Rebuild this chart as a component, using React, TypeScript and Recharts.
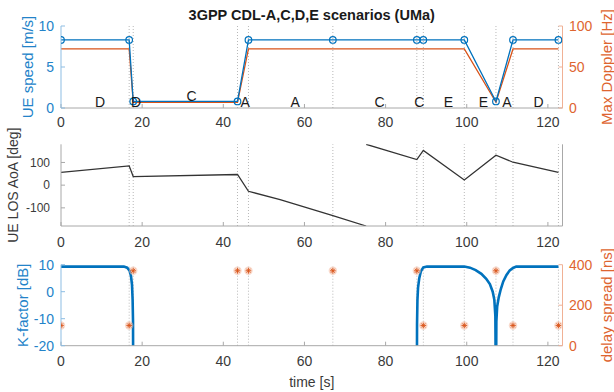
import React from 'react';
import { ComposedChart, Line, XAxis, YAxis, ReferenceLine } from 'recharts';

// segment boundaries (s) and per-point values
const segTimes = [0, 16.8, 17.8, 43.5, 46.2, 67.0, 87.7, 89.3, 99.4, 107.2, 111.4, 122.6];
const ueSpeed = [8.3, 8.3, 0.8, 0.8, 8.3, 8.3, 8.3, 8.3, 8.3, 0.8, 8.3, 8.3];
const maxDoppler = [72, 72, 7, 7, 72, 72, 72, 72, 72, 7, 72, 72];
const delaySpread = [100, 100, 370, 370, 370, 370, 370, 100, 100, 370, 100, 100];

const scenarioNames = ['D', 'D', 'C', 'A', 'A', 'C', 'C', 'E', 'E', 'A', 'D'];
const scenarioX = [9.6, 18.5, 32.2, 45.4, 57.7, 78.5, 88.3, 95.5, 104.1, 109.9, 117.7];
const scenarioY = [0.77, 0.77, 1.52, 0.77, 0.77, 0.77, 0.77, 0.77, 0.77, 0.77, 0.77];

// LOS angle of arrival, split where it wraps from -180 to 180
const aoaTimesA = [0, 16.8, 17.8, 43.5, 46.2, 54, 67.0, 75.2];
const aoaA = [56, 85, 38, 47, -27, -64, -134, -180];
const aoaTimesB = [75.2, 87.7, 89.3, 99.4, 107.2, 111.4, 122.6];
const aoaB = [180, 113, 153, 23, 132, 101, 56];

// K-factor arcs (values below -20 are off the axis)
const kTimes1 = [0, 15.5, 16.3, 16.9, 17.25, 17.5, 17.65, 17.75, 17.8];
const kVals1 = [9.3, 9.3, 8.9, 7.8, 5.8, 2.5, -3, -11, -40];
const kTimes2 = [87.7, 87.75, 87.85, 88.0, 88.3, 88.7, 89.3, 90.2, 99.4, 100.8, 102.2, 103.6, 104.8, 105.7, 106.4, 106.8, 107.05, 107.2];
const kVals2 = [-40, -12, -3, 1.5, 5, 7.6, 9.0, 9.3, 9.3, 8.9, 8.0, 6.6, 4.8, 2.8, 0, -3, -9, -40];
const kTimes3 = [107.2, 107.3, 107.5, 107.9, 108.4, 109.0, 109.8, 110.6, 111.4, 112.2, 122.6];
const kVals3 = [-40, -11, -5.5, -2, 1, 3.8, 6.2, 7.9, 8.8, 9.3, 9.3];

const xTicks = [0, 20, 40, 60, 80, 100, 120];
const boundaries = segTimes.slice(1);

const BLUE = '#0072BD';
const ORANGE = '#D95319';
const BLUE_TXT = '#2383c9';
const ORANGE_TXT = '#de6530';
const BLUE_AXIS = '#8dbde3';
const ORANGE_AXIS = '#f0b195';
const GRAY_AXIS = '#a8a8a8';
const DARK = '#3a3a3a';
const FONT = '"Liberation Sans", Arial, Helvetica, sans-serif';

const W = 614;
const LEFT_W = 61;
const RIGHT_W = 51.5;
const X_MAX = 123.6;

const pts = (ts: number[], vs: number[]) => ts.map((t, i) => ({ t, v: vs[i] }));

const speedData = pts(segTimes, ueSpeed);
const dopplerData = pts(segTimes, maxDoppler);
const dsData = pts(segTimes, delaySpread);
const labelData = scenarioX.map((t, i) => ({ t, v: scenarioY[i], name: scenarioNames[i] }));
const aoaDataA = pts(aoaTimesA, aoaA);
const aoaDataB = pts(aoaTimesB, aoaB);
const kData1 = pts(kTimes1, kVals1);
const kData2 = pts(kTimes2, kVals2);
const kData3 = pts(kTimes3, kVals3);

const tickFont = (fill: string, size = 14) => ({ fill, fontSize: size, fontFamily: FONT });

const sideTitle = (text: string, x: number, color: string, size = 15) => (props: any) => {
  const vb = props.viewBox || {};
  const cy = (vb.y ?? 0) + (vb.height ?? 0) / 2;
  return (
    <text
      x={x}
      y={cy}
      transform={`rotate(-90, ${x}, ${cy})`}
      textAnchor="middle"
      dominantBaseline="central"
      fill={color}
      fontSize={size}
      fontFamily={FONT}
    >
      {text}
    </text>
  );
};

const plainTitle = (text: string, y: number, size: number) => (props: any) => {
  const vb = props.viewBox || {};
  const cx = (vb.x ?? 0) + (vb.width ?? 0) / 2;
  return (
    <text x={cx} y={y} textAnchor="middle" dominantBaseline="central" fill={DARK} fontSize={size} fontFamily={FONT}>
      {text}
    </text>
  );
};

const renderScenario = (p: any) => (
  <text
    key={`sc-${p.index}`}
    x={p.cx}
    y={p.cy}
    textAnchor="middle"
    dominantBaseline="central"
    fontSize={14}
    fontFamily={FONT}
    fill="#1a1a1a"
  >
    {p.payload.name}
  </text>
);

const renderStar = (p: any) => {
  const { cx, cy, index } = p;
  const s = 2.8;
  const d = s * 0.7;
  return (
    <g key={`ds-${index}`}>
      <circle cx={cx} cy={cy} r={4.2} fill="#f4b9a0" fillOpacity={0.55} />
      <line x1={cx - s} y1={cy} x2={cx + s} y2={cy} stroke={ORANGE} strokeWidth={0.9} />
      <line x1={cx} y1={cy - s} x2={cx} y2={cy + s} stroke={ORANGE} strokeWidth={0.9} />
      <line x1={cx - d} y1={cy - d} x2={cx + d} y2={cy + d} stroke={ORANGE} strokeWidth={0.9} />
      <line x1={cx - d} y1={cy + d} x2={cx + d} y2={cy - d} stroke={ORANGE} strokeWidth={0.9} />
    </g>
  );
};

const topAxis = (
  <XAxis
    xAxisId="top"
    orientation="top"
    type="number"
    dataKey="t"
    domain={[0, X_MAX]}
    ticks={xTicks}
    allowDataOverflow
    height={0}
    tickSize={-4}
    tick={false}
    stroke={GRAY_AXIS}
  />
);

const dotted = (yAxisId: string) =>
  boundaries.map((b) => (
    <ReferenceLine key={`b-${b}`} x={b} yAxisId={yAxisId} stroke="#b8b8b8" strokeDasharray="1 2" strokeWidth={1} />
  ));

export default function App() {
  return (
    <div style={{ position: 'absolute', left: 0, top: 0, width: W, height: 392, background: '#fff' }}>
      <div
        style={{
          position: 'absolute',
          left: LEFT_W,
          top: 6,
          width: W - LEFT_W - RIGHT_W,
          textAlign: 'center',
          fontFamily: FONT,
          fontSize: 14.5,
          lineHeight: '18px',
          fontWeight: 'bold',
          color: '#1a1a1a',
          zIndex: 2,
        }}
      >
        3GPP CDL-A,C,D,E scenarios (UMa)
      </div>

      {/* speed / doppler */}
      <div style={{ position: 'absolute', left: 0, top: 0 }}>
        <ComposedChart width={W} height={135} margin={{ top: 26, right: 0, bottom: 0, left: 0 }}>
          <XAxis
            type="number"
            dataKey="t"
            domain={[0, X_MAX]}
            ticks={xTicks}
            allowDataOverflow
            height={27}
            tickSize={-4}
            tickMargin={13}
            stroke={GRAY_AXIS}
            tick={tickFont(DARK)}
          />
          {topAxis}
          <YAxis
            yAxisId="l"
            width={LEFT_W}
            domain={[0, 10]}
            ticks={[0, 5, 10]}
            allowDataOverflow
            tickSize={-4}
            tickMargin={11}
            stroke={BLUE_AXIS}
            tick={tickFont(BLUE_TXT)}
            label={sideTitle('UE speed [m/s]', 27, BLUE_TXT)}
          />
          <YAxis
            yAxisId="r"
            orientation="right"
            width={RIGHT_W}
            domain={[0, 100]}
            ticks={[0, 50, 100]}
            allowDataOverflow
            tickSize={-4}
            tickMargin={10.5}
            stroke={ORANGE_AXIS}
            tick={tickFont(ORANGE_TXT)}
            label={sideTitle('Max Doppler [Hz]', 606, ORANGE_TXT)}
          />
          {dotted('l')}
          <Line yAxisId="r" data={dopplerData} dataKey="v" stroke={ORANGE} strokeWidth={1.3} dot={false} activeDot={false} isAnimationActive={false} />
          <Line
            yAxisId="l"
            data={speedData}
            dataKey="v"
            stroke={BLUE}
            strokeWidth={1.3}
            dot={{ r: 3.3, stroke: BLUE, strokeWidth: 1.2, fill: 'none' }}
            activeDot={false}
            isAnimationActive={false}
          />
          <Line yAxisId="l" data={labelData} dataKey="v" stroke="none" dot={renderScenario} activeDot={false} isAnimationActive={false} />
        </ComposedChart>
      </div>

      {/* LOS AoA */}
      <div style={{ position: 'absolute', left: 0, top: 120 }}>
        <ComposedChart width={W} height={134} margin={{ top: 24.3, right: 0, bottom: 0, left: 0 }}>
          <XAxis
            type="number"
            dataKey="t"
            domain={[0, X_MAX]}
            ticks={xTicks}
            allowDataOverflow
            height={28}
            tickSize={-4}
            tickMargin={15}
            stroke={GRAY_AXIS}
            tick={tickFont(DARK)}
          />
          {topAxis}
          <YAxis
            yAxisId="l"
            width={LEFT_W}
            domain={[-180, 180]}
            ticks={[-100, 0, 100]}
            allowDataOverflow
            tickSize={-4}
            tickMargin={15}
            stroke={GRAY_AXIS}
            tick={tickFont(DARK, 12)}
            label={sideTitle('UE LOS AoA [deg]', 13, DARK, 14)}
          />
          <YAxis
            yAxisId="r"
            orientation="right"
            width={RIGHT_W}
            domain={[-180, 180]}
            ticks={[-100, 0, 100]}
            allowDataOverflow
            tickSize={-4}
            tick={false}
            stroke={GRAY_AXIS}
          />
          {dotted('l')}
          <Line yAxisId="l" data={aoaDataA} dataKey="v" stroke="#333333" strokeWidth={1.3} dot={false} activeDot={false} isAnimationActive={false} />
          <Line yAxisId="l" data={aoaDataB} dataKey="v" stroke="#333333" strokeWidth={1.3} dot={false} activeDot={false} isAnimationActive={false} />
        </ComposedChart>
      </div>

      {/* K-factor / delay spread */}
      <div style={{ position: 'absolute', left: 0, top: 240 }}>
        <ComposedChart width={W} height={152} margin={{ top: 24.7, right: 0, bottom: 0, left: 0 }}>
          <XAxis
            type="number"
            dataKey="t"
            domain={[0, X_MAX]}
            ticks={xTicks}
            allowDataOverflow
            height={46.3}
            tickSize={-4}
            tickMargin={14}
            stroke={GRAY_AXIS}
            tick={tickFont(DARK)}
            label={plainTitle('time [s]', 142, 14)}
          />
          {topAxis}
          <YAxis
            yAxisId="l"
            width={LEFT_W}
            domain={[-20, 10]}
            ticks={[-20, -10, 0, 10]}
            allowDataOverflow
            tickSize={-4}
            tickMargin={11}
            stroke={BLUE_AXIS}
            tick={tickFont(BLUE_TXT)}
            label={sideTitle('K-factor [dB]', 23, BLUE_TXT)}
          />
          <YAxis
            yAxisId="r"
            orientation="right"
            width={RIGHT_W}
            domain={[0, 400]}
            ticks={[0, 200, 400]}
            allowDataOverflow
            tickSize={-4}
            tickMargin={10.5}
            stroke={ORANGE_AXIS}
            tick={tickFont(ORANGE_TXT)}
            label={sideTitle('delay spread [ns]', 607, ORANGE_TXT)}
          />
          {dotted('l')}
          <Line yAxisId="l" data={kData1} dataKey="v" stroke={BLUE} strokeWidth={2.6} dot={false} activeDot={false} isAnimationActive={false} />
          <Line yAxisId="l" data={kData2} dataKey="v" stroke={BLUE} strokeWidth={2.6} dot={false} activeDot={false} isAnimationActive={false} />
          <Line yAxisId="l" data={kData3} dataKey="v" stroke={BLUE} strokeWidth={2.6} dot={false} activeDot={false} isAnimationActive={false} />
          <Line yAxisId="r" data={dsData} dataKey="v" stroke="none" dot={renderStar} activeDot={false} isAnimationActive={false} />
        </ComposedChart>
      </div>
    </div>
  );
}
